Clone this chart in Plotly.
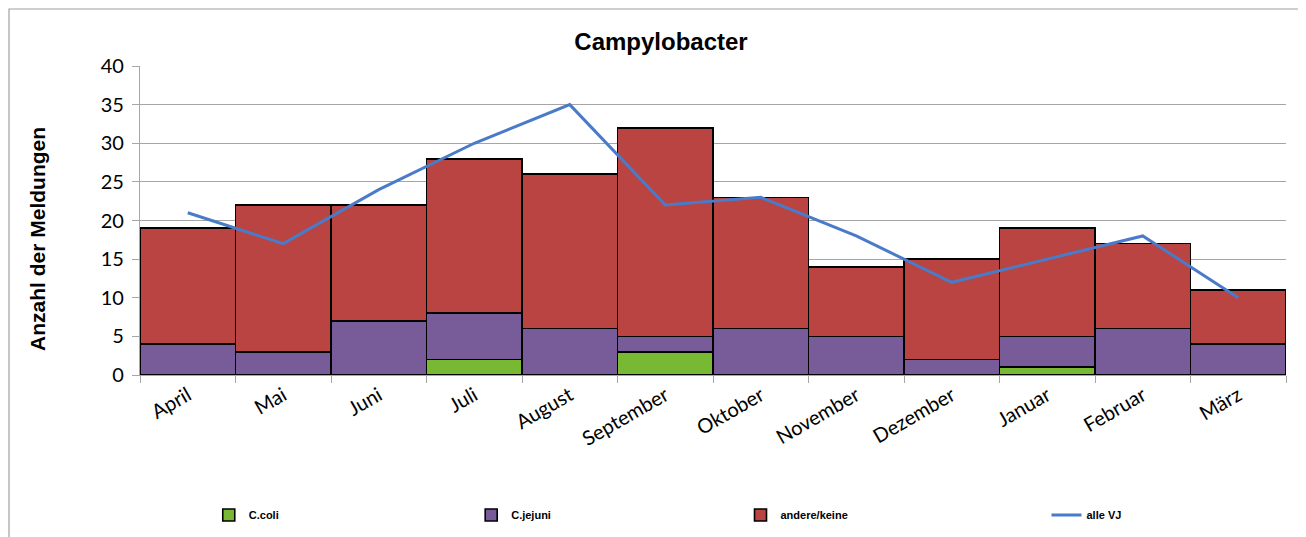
import plotly.graph_objects as go

months = ["April", "Mai", "Juni", "Juli", "August", "September", "Oktober",
          "November", "Dezember", "Januar", "Februar", "März"]
c_coli = [0, 0, 0, 2, 0, 3, 0, 0, 0, 1, 0, 0]
c_jejuni = [4, 3, 7, 6, 6, 2, 6, 5, 2, 4, 6, 4]
andere = [15, 19, 15, 20, 20, 27, 17, 9, 13, 14, 11, 7]
alle_vj = [21, 17, 24, 30, 35, 22, 23, 18, 12, 15, 18, 10]

fig = go.Figure()
for name, vals, color, leg in [
    ("C.coli", c_coli, "#78B833", "legend"),
    ("C.jejuni", c_jejuni, "#785C9A", "legend2"),
    ("andere/keine", andere, "#B94442", "legend3"),
]:
    fig.add_trace(go.Bar(
        x=months, y=vals, name=name, width=1, legend=leg, showlegend=True,
        marker=dict(color=color, line=dict(color="black", width=1.6)),
    ))
fig.add_trace(go.Scatter(
    x=months, y=alle_vj, name="alle VJ", mode="lines", legend="legend4",
    showlegend=True, line=dict(color="#4A7BC9", width=3),
))

leg_font = dict(family="Liberation Sans, Arial", size=11, color="black", weight="bold")
def leg(x):
    return dict(orientation="h", x=x, y=-0.453, yanchor="middle",
                font=leg_font, bgcolor="rgba(0,0,0,0)")

# page body adds ~8px offset, margins compensate
fig.update_layout(
    barmode="stack", showlegend=True,
    width=1306, height=537,
    paper_bgcolor="white", plot_bgcolor="white",
    margin=dict(l=132, r=28, t=58, b=170),
    title=dict(text="<b>Campylobacter</b>", x=0.5, xanchor="center",
               y=0.937, yanchor="middle",
               font=dict(family="Liberation Sans, Arial", size=24, color="black")),
    font=dict(family="Lato, Open Sans, sans-serif", color="black"),
    legend=leg(0.060), legend2=leg(0.289), legend3=leg(0.524), legend4=leg(0.791),
    shapes=[dict(type="rect", xref="paper", yref="paper",
                 x0=-0.1143, x1=1.05, y0=-0.7, y1=1.1845,
                 line=dict(color="#A0A0A0", width=1.2), layer="below")],
    annotations=[dict(text="<b>Anzahl der Meldungen</b>", textangle=-90,
                      xref="paper", yref="paper", x=-0.09, y=0.44,
                      xanchor="center", yanchor="middle", showarrow=False,
                      font=dict(family="Liberation Sans, Arial", size=21))],
)
fig.update_yaxes(
    range=[0, 40], dtick=5, showgrid=True, gridcolor="#A6A6A6", gridwidth=1.2,
    showline=True, linecolor="#A6A6A6", linewidth=1.2,
    ticks="outside", ticklen=7, tickcolor="#A6A6A6", ticklabelstandoff=4,
    tickfont=dict(size=20), zeroline=False,
)
fig.update_xaxes(
    showline=True, linecolor="#A6A6A6", linewidth=1.2,
    ticks="outside", ticklen=7, tickcolor="#A6A6A6", tickson="boundaries",
    tickangle=-30, tickfont=dict(size=20), range=[-0.5, 11.5],
)

fig.write_html("out.html")
